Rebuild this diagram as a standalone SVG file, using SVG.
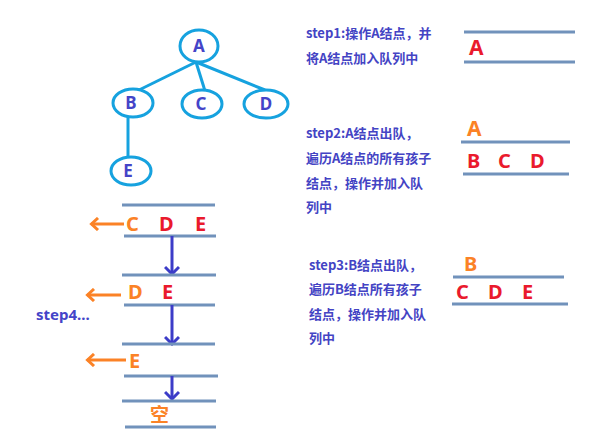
<svg xmlns="http://www.w3.org/2000/svg" width="608" height="447" viewBox="0 0 608 447">
<defs>
<style>
.nd{fill:#fff;stroke:#16a2df;stroke-width:3}
.ed{stroke:#16a2df;stroke-width:3;fill:none}
.nt{font-family:"Noto Sans","Liberation Sans",sans-serif;font-weight:bold;font-size:17px;fill:#4444c8;text-anchor:middle}
.st{font-family:"Noto Sans CJK SC","Noto Sans",sans-serif;font-weight:bold;font-size:13px;fill:#4444c4}
.ql{stroke:#7192bb;stroke-width:3}
.qr{font-family:"Noto Sans","Liberation Sans",sans-serif;font-weight:bold;font-size:20px;fill:#ea1a2d}
.qo{font-family:"Noto Sans","Liberation Sans",sans-serif;font-weight:bold;font-size:20px;fill:#fb8226}
.ao{stroke:#fb8226;stroke-width:3;fill:none}
.ab{stroke:#3c3cc8;stroke-width:3;fill:none}
</style>
<marker id="mo" markerWidth="12" markerHeight="14" refX="9" refY="7" orient="auto" markerUnits="userSpaceOnUse"><path d="M2,1 L8.5,7 L2,13" fill="none" stroke="#fb8226" stroke-width="3"/></marker>
<marker id="mb" markerWidth="16" markerHeight="12" refX="8" refY="10" orient="0" markerUnits="userSpaceOnUse"><path d="M1,3 L8,10 L15,3" fill="none" stroke="#3c3cc8" stroke-width="3"/></marker>
</defs>
<g id="connectors">
<path class="ed" d="M196,62 L139,90"/>
<path class="ed" d="M196,62 L205,91"/>
<path class="ed" d="M196,62 L265,90"/>
<path class="ed" d="M128,117 L128,157"/>
</g>
<g id="nodeA"><ellipse class="nd" cx="199" cy="46" rx="19" ry="16"/><text class="nt" x="199" y="52">A</text></g>
<g id="nodeB"><ellipse class="nd" cx="133" cy="103" rx="20" ry="14"/><text class="nt" x="131" y="109">B</text></g>
<g id="nodeC"><ellipse class="nd" cx="202" cy="104" rx="20" ry="14"/><text class="nt" x="201" y="110">C</text></g>
<g id="nodeD"><ellipse class="nd" cx="266" cy="104" rx="22" ry="14"/><text class="nt" x="266" y="110">D</text></g>
<g id="nodeE"><ellipse class="nd" cx="131" cy="171" rx="20" ry="14"/><text class="nt" x="128" y="177">E</text></g>

<g id="step1">
<text class="st" x="306" y="38">step1:操作A结点，并</text>
<text class="st" x="306" y="63">将A结点加入队列中</text>
<line class="ql" x1="464" y1="32" x2="575" y2="32"/>
<line class="ql" x1="464" y1="62" x2="575" y2="62"/>
<text class="qr" x="469" y="55" style="font-size:21px">A</text>
</g>

<g id="step2">
<text class="st" x="306" y="138">step2:A结点出队，</text>
<text class="st" x="306" y="163">遍历A结点的所有孩子</text>
<text class="st" x="306" y="188">结点，操作并加入队</text>
<text class="st" x="306" y="212">列中</text>
<text class="qo" x="467" y="136" style="font-size:21px">A</text>
<line class="ql" x1="461" y1="142" x2="570" y2="142"/>
<text class="qr" x="467" y="168">B</text>
<text class="qr" x="498" y="168">C</text>
<text class="qr" x="530" y="168">D</text>
<line class="ql" x1="463" y1="174" x2="569" y2="174"/>
</g>

<g id="step3">
<text class="st" x="309" y="270">step3:B结点出队，</text>
<text class="st" x="309" y="294">遍历B结点所有孩子</text>
<text class="st" x="309" y="319">结点，操作并加入队</text>
<text class="st" x="309" y="343">列中</text>
<text class="qo" x="464" y="271">B</text>
<line class="ql" x1="453" y1="277" x2="564" y2="277"/>
<text class="qr" x="456" y="299">C</text>
<text class="qr" x="488" y="299">D</text>
<text class="qr" x="522" y="299">E</text>
<line class="ql" x1="452" y1="304" x2="568" y2="304"/>
</g>

<g id="step4">
<text x="36" y="320" style="font-family:'Noto Sans','Liberation Sans',sans-serif;font-weight:bold;font-size:15px;fill:#4444c8">step4...</text>
<line class="ql" x1="122" y1="205" x2="215" y2="205"/>
<text class="qo" x="126" y="231">C</text>
<text class="qr" x="159" y="231">D</text>
<text class="qr" x="195" y="231">E</text>
<line class="ql" x1="124" y1="236" x2="216" y2="236"/>
<line class="ao" x1="124" y1="224" x2="91" y2="224" marker-end="url(#mo)"/>
<line class="ab" x1="172" y1="236" x2="172" y2="274" marker-end="url(#mb)"/>
<line class="ql" x1="122" y1="275" x2="216" y2="275"/>
<text class="qo" x="128" y="299">D</text>
<text class="qr" x="162" y="299">E</text>
<line class="ql" x1="124" y1="305" x2="215" y2="305"/>
<line class="ao" x1="121" y1="295" x2="87" y2="295" marker-end="url(#mo)"/>
<line class="ab" x1="172" y1="305" x2="172" y2="344" marker-end="url(#mb)"/>
<line class="ql" x1="122" y1="344" x2="215" y2="344"/>
<text class="qo" x="129" y="368">E</text>
<line class="ao" x1="126" y1="360" x2="87" y2="360" marker-end="url(#mo)"/>
<line class="ql" x1="124" y1="376" x2="218" y2="376"/>
<line class="ab" x1="172" y1="376" x2="172" y2="399" marker-end="url(#mb)"/>
<line class="ql" x1="122" y1="401" x2="216" y2="401"/>
<text x="150" y="422" style="font-family:'Noto Sans CJK SC',sans-serif;font-weight:bold;font-size:19px;fill:#fb8226">空</text>
<line class="ql" x1="125" y1="427" x2="216" y2="427"/>
</g>
</svg>
